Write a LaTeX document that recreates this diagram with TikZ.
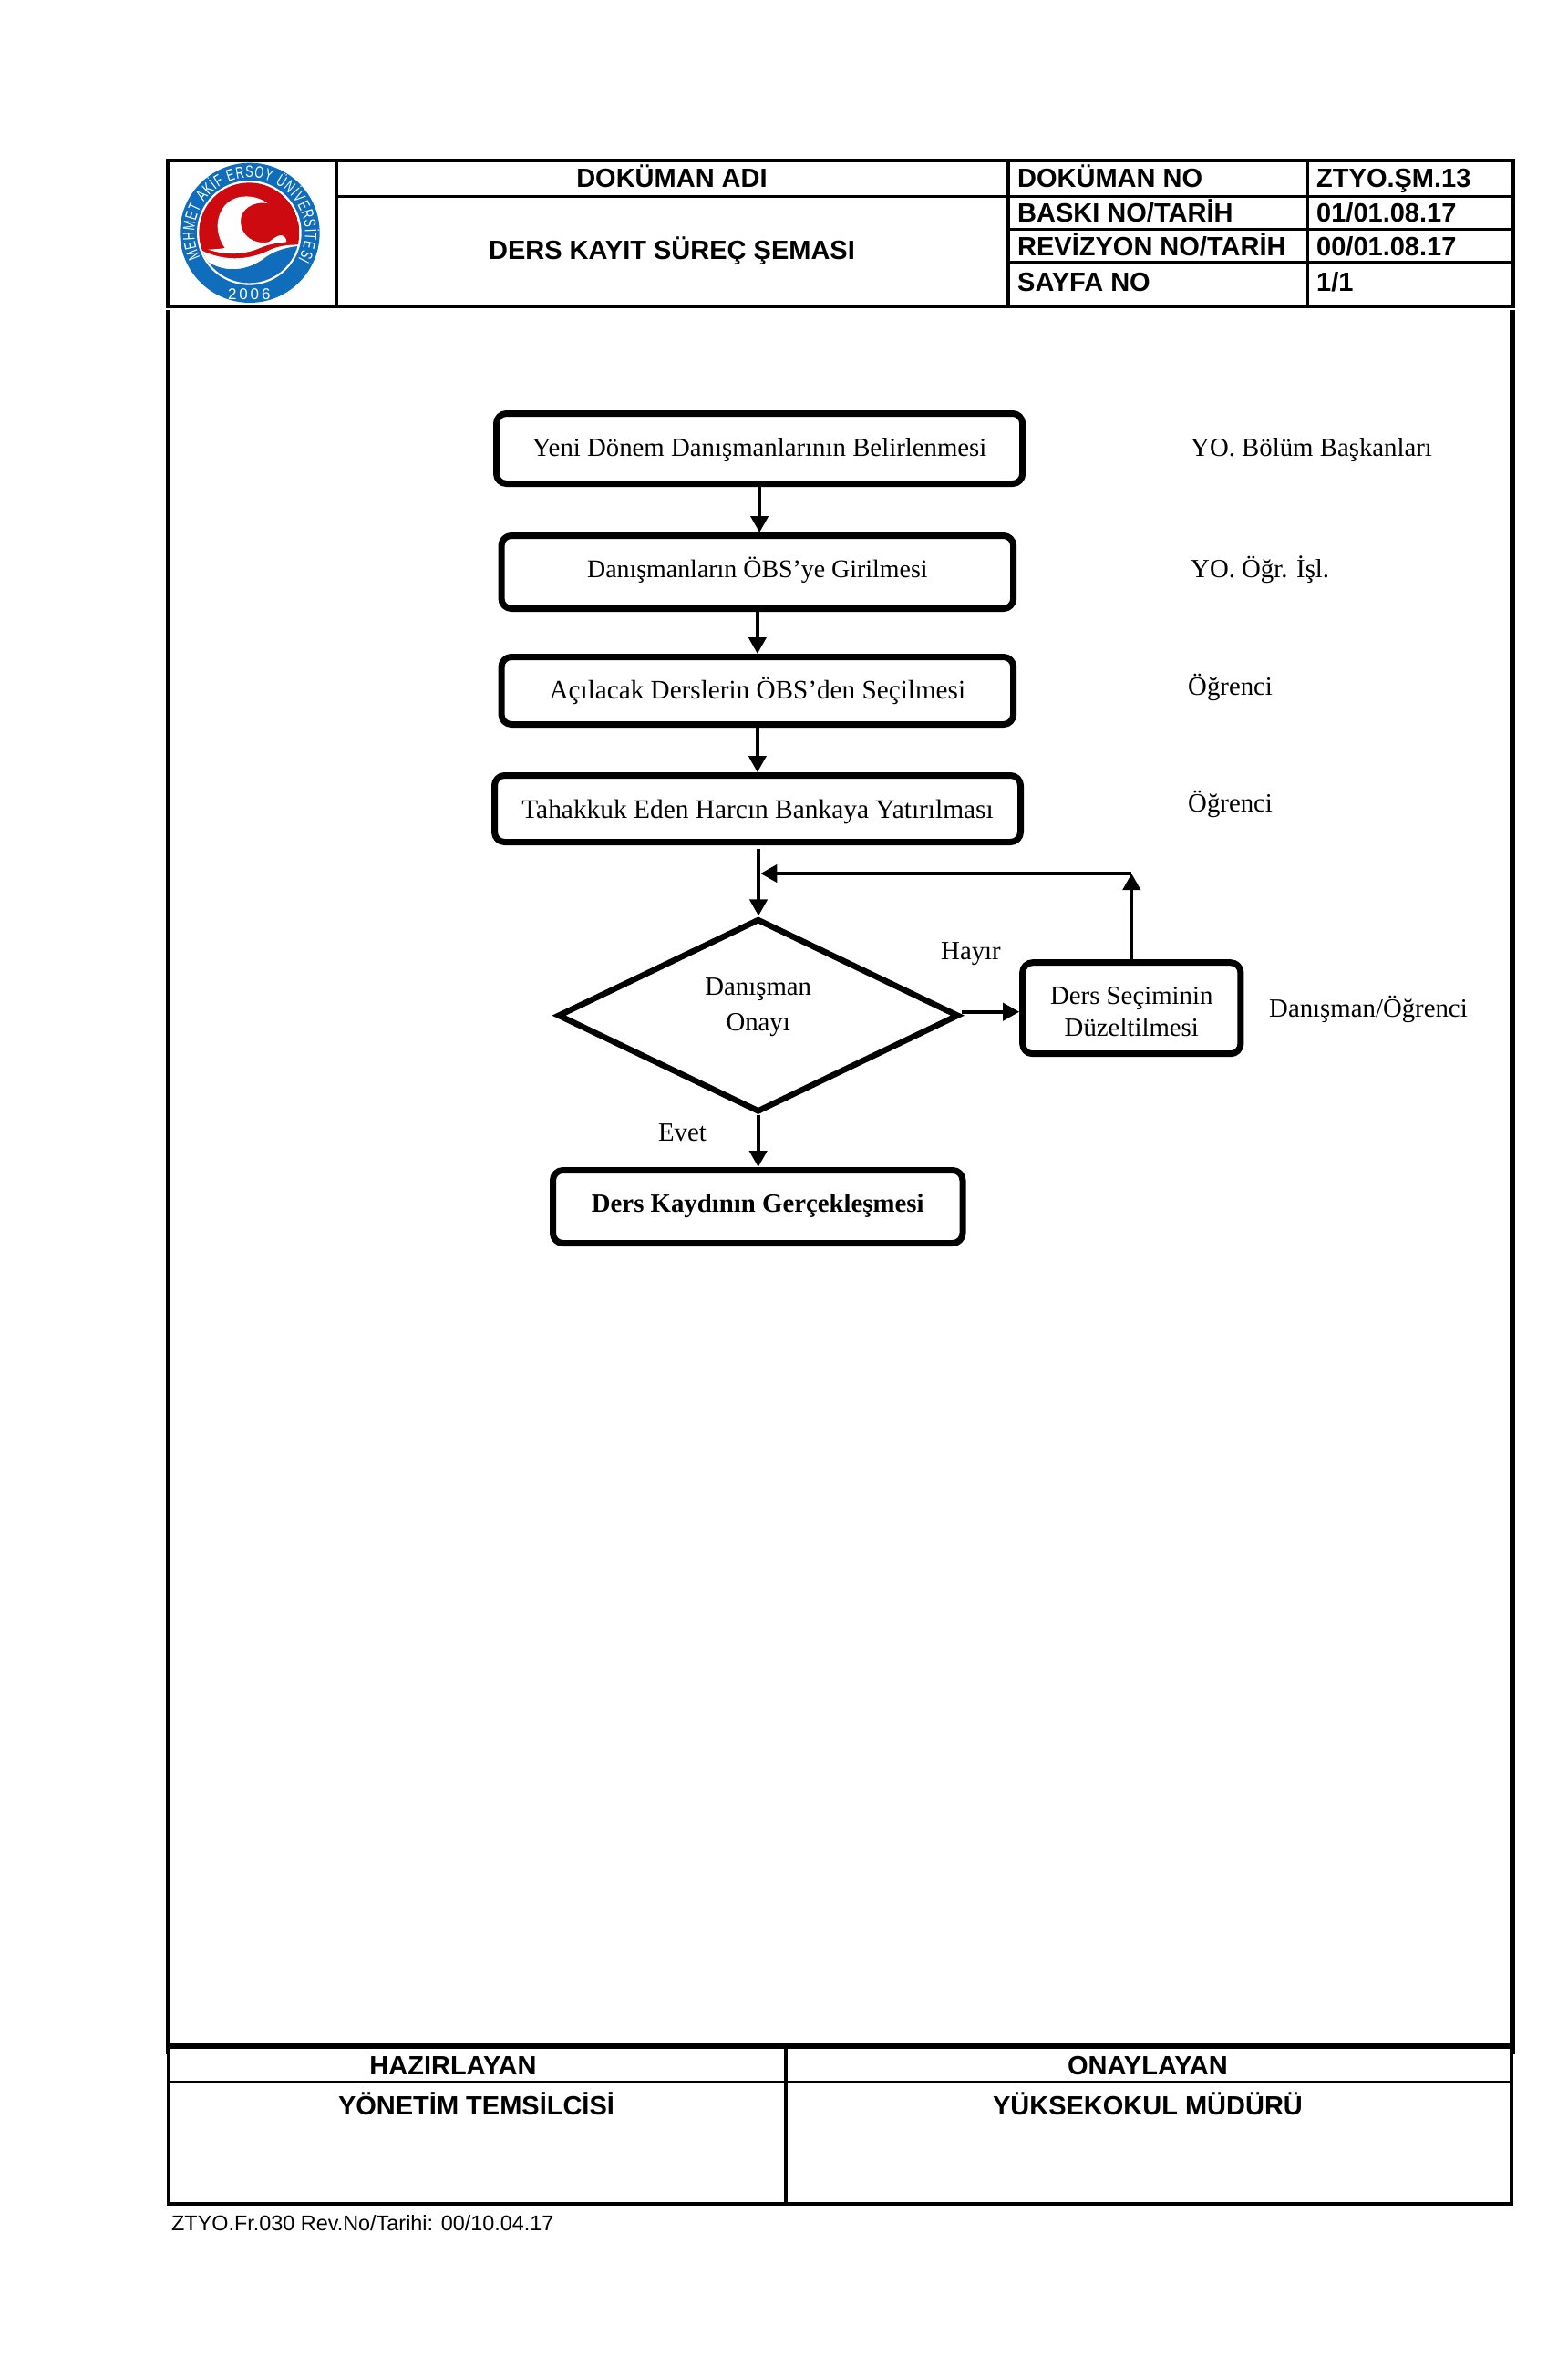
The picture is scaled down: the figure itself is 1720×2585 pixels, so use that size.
\documentclass[tikz,border=0pt]{standalone}
\usepackage{fontspec}
\setmainfont{Liberation Serif}
\newfontfamily\headfont{Liberation Sans}
\newfontfamily\logofont[FakeStretch=0.7]{Liberation Sans}
\usetikzlibrary{arrows.meta,shapes.geometric,decorations.text}
\definecolor{logored}{HTML}{CC0A10}
\definecolor{logoblue}{HTML}{0F6DBB}
\tikzset{
  stepbox/.style={draw, line width=7pt, rounded corners=11pt, inner sep=0pt, align=center, text height=20pt},
  decision/.style={draw, diamond, line width=6.5pt, line join=miter, inner sep=0pt, align=center, aspect=2.07, minimum width=440pt, minimum height=212pt},
  arr/.style={->, line width=4pt},
  sidelbl/.style={anchor=base west, inner sep=0pt},
  midlbl/.style={anchor=base, inner sep=0pt},
  headlbl/.style={anchor=base, inner sep=0pt, font=\headfont\bfseries\fontsize{29}{34}\selectfont},
  rule/.style={line width=3pt},
  frame/.style={line width=4pt}
}
\begin{document}
\begin{tikzpicture}[x=1pt, y=-1pt, font=\fontsize{28.8}{36}\selectfont, line join=round, >={Triangle[length=18pt,width=19pt]}]
    \useasboundingbox (0,0) rectangle (1720,2585);
    \draw[frame,line join=miter] (184,176) rectangle (1660,336);
    \draw[frame] (369,176)--(369,336);
    \draw[frame] (1106,176)--(1106,336);
    \draw[rule] (1434,176)--(1434,336);
    \draw[rule] (369,215)--(1660,215);
    \foreach \y in {251,287} \draw[rule] (1106,\y)--(1660,\y);
    \draw[line width=5pt] (184.5,340)--(184.5,2253);
    \draw[line width=6pt] (1659,340)--(1659,2253);
    \draw[rule] (185,2242)--(1658,2242);
    \draw[frame,line join=miter] (185,2245) rectangle (1658,2417);
    \draw[frame] (862,2245)--(862,2417);
    \draw[rule] (185,2283)--(1658,2283);
    \begin{scope}[shift={(185,172)}, scale=1/3]
        \fill[logoblue] (267,250) circle (230);
        \fill[white] (265,250) circle (172);
        \begin{scope}
            \clip (265,250) circle (165);
            \fill[logored] (265,250) circle (165);
            \fill[white] (90,298) .. controls (170,345) and (260,345) .. (340,303) .. controls (375,290) and (410,288) .. (440,290) -- (440,420) -- (90,420) -- cycle;
            \fill[logoblue] (95,318) .. controls (160,385) and (250,385) .. (320,330) .. controls (355,305) and (400,295) .. (440,293) -- (440,420) -- (95,420) -- cycle;
        \end{scope}
        \fill[white] (325,153) .. controls (290,125) and (225,120) .. (190,155) .. controls (155,190) and (150,250) .. (185,300) .. controls (165,303) .. (130,305) .. controls (180,322) and (245,325) .. (300,300) .. controls (330,287) and (360,283) .. (388,280) .. controls (385,265) .. (372,258) .. controls (355,258) and (345,270) .. (330,280) .. controls (280,290) and (237,260) .. (237,210) .. controls (237,175) and (275,145) .. (325,153) -- cycle;
        \path[decorate, decoration={text along path, text color=white, text align={fit to path}, text={|\logofont\fontsize{18}{18}\selectfont|MEHMET AKİF ERSOY ÜNİVERSİTESİ}}] ([shift={(-207:182)}]267,250) arc[start angle=-207, end angle=29, radius=182];
        \node[midlbl, text=white, font=\headfont\fontsize{17}{17}\selectfont] (yil) at (265,470) {2\,0\,0\,6};
    \end{scope}
    \node[headlbl] (adi) at (737,205) {DOKÜMAN ADI};
    \node[headlbl] (sema) at (737,284) {DERS KAYIT SÜREÇ ŞEMASI};
    \foreach \nm/\y/\lbl in {dokno/205/DOKÜMAN NO, baski/243/{BASKI NO/TARİH}, revno/280/{REVİZYON NO/TARİH}, sayfa/319/SAYFA NO}
        \node[headlbl, anchor=base west] (\nm) at (1116,\y) {\lbl};
    \foreach \nm/\y/\lbl in {dokval/205/ZTYO.ŞM.13, baskival/243/{01/01.08.17}, revval/280/{00/01.08.17}, sayfaval/319/{1/1}}
        \node[headlbl, anchor=base west] (\nm) at (1444,\y) {\lbl};
    \foreach \nm/\x/\y/\w/\h/\d/\fs/\lbl in {yeni/833.1/492/577.2/77/4/28.8/Yeni Dönem Danışmanlarının Belirlenmesi, obs/830.85/627.5/561.7/80/9/27.9/Danışmanların ÖBS’ye Girilmesi, acilacak/830.85/757.5/561.7/74/3/29.2/Açılacak Derslerin ÖBS’den Seçilmesi, tahakkuk/831/887/577/73/0/29.4/Tahakkuk Eden Harcın Bankaya Yatırılması, kayit/831.25/1323.5/449.5/80/9/28.8/\bfseries Ders Kaydının Gerçekleşmesi}
        \node[stepbox, font=\fontsize{\fs}{36}\selectfont, text depth=\d pt, minimum width=\w pt, minimum height=\h pt] (\nm) at (\x,\y) {\lbl};
    \node[stepbox, text height=61pt, text depth=0pt, minimum width=239.3pt, minimum height=100pt] (duzeltme) at (1241.3,1105.7) {Ders Seçiminin\\[-1pt]Düzeltilmesi};
    \node[decision, text depth=25pt] (onay) at (831.7,1113.7) {Danışman\\[3pt]Onayı};
    \foreach \nm/\x/\y/\lbl in {yetki1/1306/500/YO. Bölüm Başkanları, yetki2/1306/633/YO. Öğr. İşl., yetki3/1303/762/Öğrenci, yetki4/1303/890/Öğrenci, yetki5/1392/1115/{Danışman/Öğrenci}}
        \node[sidelbl] (\nm) at (\x,\y) {\lbl};
    \node[midlbl] (hayir) at (1065,1052) {Hayır};
    \node[midlbl] (evet) at (748.5,1251) {Evet};
    \coordinate (giris) at (832,931);
    \coordinate (donus) at (834.3,958);
    \coordinate (hayirbas) at ([yshift=4pt]onay.east);
    \draw[arr] (yeni.south)--(yeni.south |- obs.north);
    \draw[arr] (obs.south)--(acilacak.north);
    \draw[arr] (acilacak.south)--(acilacak.south |- tahakkuk.north);
    \draw[arr] (giris)--(giris |- onay.north);
    \draw[arr] (hayirbas)--(hayirbas -| duzeltme.west);
    \draw[arr] (duzeltme.north)--(duzeltme.north |- donus);
    \draw[arr] (duzeltme.north |- donus)--(donus);
    \draw[arr] (onay.south)--(onay.south |- kayit.north);
    \node[headlbl] (hazirlayan) at (497,2275) {HAZIRLAYAN};
    \node[headlbl] (yonetim) at (522.5,2319) {YÖNETİM TEMSİLCİSİ};
    \node[headlbl] (onaylayan) at (1259,2275) {ONAYLAYAN};
    \node[headlbl] (mudur) at (1259,2319) {YÜKSEKOKUL MÜDÜRÜ};
    \node[anchor=base west, inner sep=0pt, font=\headfont\fontsize{23.4}{28}\selectfont] (form) at (188,2446) {ZTYO.Fr.030 Rev.No/Tarihi: 00/10.04.17};
\end{tikzpicture}
\end{document}
